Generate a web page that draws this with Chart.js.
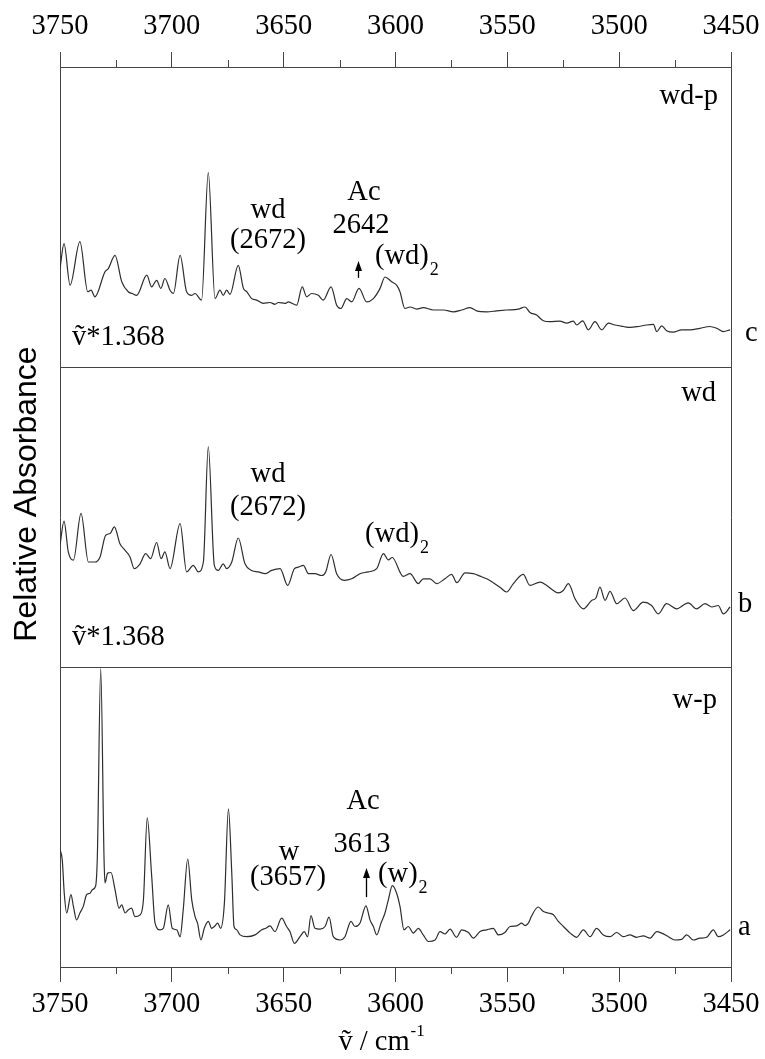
<!DOCTYPE html>
<html>
<head>
<meta charset="utf-8">
<script src="https://cdn.jsdelivr.net/npm/chart.js@4"></script>
<style>
  html, body { margin: 0; padding: 0; background: #fff; }
  #wrap { width: 765px; height: 1059px; }
</style>
</head>
<body>
<div id="wrap"><canvas id="c" width="765" height="1059"></canvas></div>
<script>
// ---- x axis (wavenumber, cm-1) ----
const xTickValues = [3750, 3700, 3650, 3600, 3550, 3500, 3450];
const xMinorTicks = [3725, 3675, 3625, 3575, 3525, 3475];

// ---- spectrum c : wd-p (top panel), relative absorbance 0..100 ----
const waveC = [3750.0, 3748.2, 3745.5, 3741.1, 3737.6, 3736.1, 3734.4, 3729.9, 3728.4, 3725.4,
  3722.4, 3719.5, 3717.7, 3715.7, 3711.2, 3709.0, 3706.8, 3704.9, 3703.1, 3700.8,
  3699.3, 3696.3, 3693.4, 3691.1, 3689.6, 3686.7, 3683.7, 3680.7, 3678.5, 3677.0,
  3675.5, 3674.0, 3670.3, 3668.0, 3666.5, 3664.3, 3662.1, 3659.1, 3656.1, 3653.9,
  3652.4, 3649.4, 3647.9, 3644.2, 3641.7, 3639.7, 3637.5, 3634.5, 3632.3, 3628.8,
  3626.3, 3624.4, 3621.8, 3619.6, 3616.3, 3612.9, 3609.9, 3606.9, 3604.7, 3601.7,
  3599.5, 3598.0, 3595.8, 3593.5, 3590.5, 3587.6, 3583.1, 3578.6, 3574.1, 3570.4,
  3566.7, 3563.7, 3559.2, 3554.8, 3550.3, 3545.1, 3542.1, 3539.9, 3536.9, 3533.9,
  3531.0, 3526.5, 3523.5, 3520.5, 3519.0, 3516.3, 3513.8, 3510.8, 3507.8, 3504.8,
  3501.9, 3498.1, 3495.2, 3491.4, 3487.7, 3484.7, 3483.2, 3481.0, 3478.8, 3475.8,
  3472.1, 3468.3, 3463.9, 3459.4, 3456.4, 3453.4, 3450.4];
const absC = [32.8, 41.1, 27.3, 41.8, 25.1, 25.6, 23.4, 31.7, 32.8, 37.2,
  28.4, 25.1, 24.5, 23.9, 30.6, 26.7, 28.9, 26.2, 29.5, 25.6,
  24.5, 37.2, 25.1, 23.9, 24.5, 22.3, 64.8, 22.8, 25.6, 23.9,
  25.6, 24.2, 33.9, 26.2, 25.1, 22.8, 22.3, 21.2, 21.5, 20.9,
  21.5, 21.2, 21.7, 20.6, 26.7, 23.4, 24.5, 23.9, 22.3, 26.7,
  20.6, 19.5, 22.8, 21.7, 26.2, 21.7, 22.8, 26.2, 30.0, 28.4,
  27.3, 25.1, 19.5, 20.0, 19.3, 19.8, 19.0, 19.0, 18.4, 19.0,
  19.8, 18.7, 18.4, 18.7, 19.0, 19.3, 20.0, 18.2, 17.3, 15.4,
  15.1, 15.3, 14.6, 15.3, 14.0, 15.4, 12.4, 15.1, 12.4, 14.6,
  14.0, 13.5, 13.2, 13.5, 14.0, 14.2, 11.8, 13.7, 12.1, 11.6,
  12.4, 12.4, 12.9, 13.5, 12.9, 11.8, 12.4];

// ---- spectrum b : wd (middle panel) ----
const waveB = [3750.0, 3748.2, 3746.3, 3744.0, 3740.6, 3737.3, 3734.4, 3732.1, 3729.6, 3727.6,
  3725.7, 3723.2, 3720.9, 3718.7, 3716.8, 3714.2, 3711.7, 3709.5, 3706.8, 3704.8,
  3703.1, 3700.8, 3696.3, 3693.4, 3690.4, 3688.2, 3685.9, 3683.7, 3681.0, 3679.2,
  3677.0, 3675.5, 3673.2, 3670.3, 3667.3, 3664.3, 3661.3, 3658.3, 3655.4, 3651.6,
  3648.2, 3645.2, 3643.4, 3641.2, 3638.9, 3636.0, 3633.0, 3631.2, 3628.8, 3626.3,
  3622.9, 3619.6, 3615.9, 3612.2, 3608.4, 3605.4, 3603.2, 3601.5, 3596.5, 3593.5,
  3589.8, 3587.6, 3584.6, 3581.6, 3577.9, 3574.9, 3572.6, 3568.9, 3565.2, 3562.2,
  3559.2, 3556.3, 3553.3, 3550.3, 3547.3, 3542.9, 3539.9, 3535.4, 3532.4, 3529.4,
  3527.2, 3525.0, 3522.7, 3519.7, 3516.0, 3512.3, 3510.4, 3508.6, 3506.3, 3504.1,
  3501.1, 3497.4, 3493.7, 3489.2, 3485.5, 3482.5, 3478.8, 3474.3, 3469.1, 3465.4,
  3461.6, 3458.6, 3455.7, 3453.4, 3450.4];
const absB = [40.6, 48.6, 38.4, 35.6, 51.2, 35.0, 35.0, 36.7, 43.9, 44.5,
  46.7, 41.1, 38.9, 36.7, 32.8, 34.4, 37.8, 36.1, 41.5, 36.1,
  38.4, 32.8, 47.8, 31.7, 33.9, 31.7, 35.0, 73.5, 33.9, 32.2,
  34.4, 32.8, 35.0, 43.0, 34.4, 32.2, 31.7, 31.1, 32.2, 32.8,
  27.2, 32.8, 33.3, 33.9, 31.1, 31.1, 30.5, 31.7, 37.5, 31.1,
  28.9, 29.4, 31.1, 31.7, 32.8, 37.8, 35.7, 36.5, 30.2, 31.1,
  27.8, 29.4, 29.4, 27.8, 29.4, 30.9, 28.1, 31.4, 31.1, 30.3,
  29.4, 28.1, 26.6, 25.0, 27.8, 30.9, 27.2, 28.3, 27.2, 25.5,
  24.7, 25.5, 27.8, 22.7, 19.4, 22.2, 23.0, 26.6, 22.2, 25.2,
  21.1, 23.0, 18.8, 21.6, 20.5, 17.7, 21.1, 19.4, 21.4, 19.4,
  21.1, 20.0, 20.5, 17.7, 20.0];

// ---- spectrum a : w-p (bottom panel) ----
const waveA = [3750.0, 3749.0, 3748.1, 3747.0, 3745.1, 3744.0, 3742.6, 3741.1, 3739.6, 3738.1,
  3736.6, 3735.5, 3734.1, 3733.3, 3731.8, 3730.3, 3729.9, 3728.7, 3727.2, 3725.4,
  3723.6, 3722.4, 3720.9, 3719.4, 3718.0, 3716.5, 3714.2, 3712.7, 3711.0, 3709.0,
  3707.5, 3705.3, 3703.8, 3701.6, 3699.8, 3697.8, 3696.3, 3694.9, 3692.9, 3691.1,
  3689.6, 3688.5, 3687.0, 3685.5, 3683.7, 3682.2, 3681.0, 3679.5, 3678.2, 3676.5,
  3674.7, 3673.2, 3672.2, 3671.0, 3669.5, 3666.5, 3662.8, 3659.8, 3658.0, 3656.1,
  3653.9, 3650.9, 3648.7, 3647.2, 3645.2, 3642.7, 3640.8, 3639.3, 3637.8, 3636.0,
  3633.8, 3631.5, 3629.7, 3627.8, 3624.8, 3622.6, 3619.9, 3618.1, 3615.9, 3613.2,
  3611.4, 3609.9, 3608.4, 3606.5, 3604.7, 3603.2, 3601.4, 3599.5, 3598.0, 3596.2,
  3594.3, 3592.0, 3589.8, 3587.6, 3585.3, 3582.3, 3580.1, 3577.9, 3575.6, 3572.7,
  3570.4, 3567.4, 3565.2, 3562.2, 3559.2, 3556.3, 3554.0, 3551.1, 3548.8, 3545.8,
  3543.6, 3542.1, 3540.6, 3539.1, 3536.2, 3533.9, 3531.7, 3529.4, 3527.2, 3524.9,
  3521.9, 3519.0, 3516.0, 3513.0, 3510.1, 3507.1, 3504.1, 3501.1, 3498.1, 3495.2,
  3492.2, 3489.2, 3486.2, 3483.2, 3481.0, 3478.0, 3475.1, 3472.1, 3469.8, 3466.9,
  3463.9, 3460.9, 3457.9, 3455.7, 3453.4, 3450.4];
const absA = [39.1, 35.8, 24.6, 18.0, 24.1, 20.2, 15.7, 18.0, 20.2, 24.1,
  24.6, 25.8, 26.9, 36.9, 99.5, 35.8, 28.0, 31.3, 31.5, 25.8,
  19.6, 20.7, 18.0, 19.1, 19.6, 16.8, 17.4, 22.4, 49.7, 30.2,
  14.6, 12.4, 12.9, 20.7, 12.9, 12.4, 10.1, 19.1, 36.0, 22.4,
  16.8, 14.6, 9.0, 12.9, 15.2, 12.9, 13.5, 14.6, 12.9, 21.3,
  52.7, 31.3, 13.5, 12.4, 10.7, 10.1, 10.7, 12.4, 12.9, 13.7,
  11.8, 16.3, 13.5, 11.8, 7.9, 10.1, 11.8, 10.1, 17.1, 12.9,
  12.6, 13.5, 16.6, 10.1, 9.0, 10.1, 15.2, 13.5, 14.6, 20.4,
  15.7, 13.5, 10.7, 14.6, 18.0, 22.4, 27.1, 24.6, 20.2, 12.4,
  13.5, 11.3, 12.9, 10.7, 8.5, 9.0, 11.8, 11.0, 12.6, 9.9,
  12.4, 11.5, 9.6, 11.8, 12.4, 12.9, 10.7, 11.5, 13.5, 13.7,
  14.6, 13.8, 14.6, 17.1, 20.0, 18.5, 18.0, 17.4, 15.2, 13.5,
  11.3, 9.9, 12.4, 10.1, 12.9, 10.7, 10.1, 11.5, 10.1, 10.7,
  9.9, 10.4, 9.6, 11.8, 11.3, 10.1, 9.0, 9.2, 10.7, 9.0,
  9.6, 9.9, 12.4, 10.1, 10.7, 12.4];

// ---- text annotations (x in cm-1, y in stacked-panel units 0..3) ----
const notes = [
  {t: 'wd-p', x: 3455.8, y: 2.90, align: 'right'},
  {t: 'wd', x: 3657.0, y: 2.523, align: 'center'},
  {t: '(2672)', x: 3657.0, y: 2.423, align: 'center'},
  {t: 'Ac', x: 3614.1, y: 2.58, align: 'center'},
  {t: '2642', x: 3615.4, y: 2.473, align: 'center'},
  {t: '(wd)', sub: '2', x: 3609.2, y: 2.367, align: 'left'},
  {t: 'c', x: 3443.7, y: 2.113, align: 'left'},
  {t: 'ṽ*1.368', x: 3744.6, y: 2.097, align: 'left'},

  {t: 'wd', x: 3456.7, y: 1.913, align: 'right'},
  {t: 'wd', x: 3657.0, y: 1.64, align: 'center'},
  {t: '(2672)', x: 3657.0, y: 1.53, align: 'center'},
  {t: '(wd)', sub: '2', x: 3613.6, y: 1.44, align: 'left'},
  {t: 'b', x: 3446.9, y: 1.207, align: 'left'},
  {t: 'ṽ*1.368', x: 3744.6, y: 1.097, align: 'left'},

  {t: 'w-p', x: 3456.3, y: 0.887, align: 'right'},
  {t: 'Ac', x: 3614.5, y: 0.55, align: 'center'},
  {t: '3613', x: 3615.0, y: 0.407, align: 'center'},
  {t: 'w', x: 3647.6, y: 0.38, align: 'center'},
  {t: '(3657)', x: 3648.1, y: 0.297, align: 'center'},
  {t: '(w)', sub: '2', x: 3607.8, y: 0.307, align: 'left'},
  {t: 'a', x: 3446.9, y: 0.13, align: 'left'}
];
const arrows = [
  {x: 3616.8, from: 2.297, to: 2.353},
  {x: 3613.2, from: 0.233, to: 0.330}
];

// ---- font selection: first installed serif face, sized so "3750" is ~57px wide ----
function installed(name) {
  const c = document.createElement('canvas').getContext('2d');
  const probe = 'wd(2672)Ac3750 mmmiiilll';
  let differs = false;
  ['monospace', 'sans-serif'].forEach(base => {
    c.font = '40px ' + base;
    const w0 = c.measureText(probe).width;
    c.font = '40px "' + name + '", ' + base;
    const w1 = c.measureText(probe).width;
    if (Math.abs(w1 - w0) > 0.01) differs = true;
  });
  return differs;
}
const serifCandidates = ['Liberation Serif', 'Times New Roman', 'Tinos', 'DejaVu Serif', 'Noto Serif', 'FreeSerif'];
const serifName = serifCandidates.find(installed) || 'serif';
const SERIF = (serifName === 'serif') ? 'serif' : '"' + serifName + '", serif';
const SANS = '"Liberation Sans", Arial, sans-serif';
const FS = (() => {
  const c = document.createElement('canvas').getContext('2d');
  c.font = '100px ' + SERIF;
  const w = c.measureText('3750').width;
  return Math.max(18, Math.min(32, Math.round(57 / w * 100 * 10) / 10));
})();
const FRAME = '#444';
const TRACE = '#2e2e2e';

function series(wave, abs, base) {
  return wave.map((w, i) => ({x: w, y: base + abs[i] / 100}));
}

const fixTicks = (vals) => (scale) => { scale.ticks = vals.map(v => ({value: v})); };

const decor = {
  id: 'decor',
  afterDraw(chart) {
    const ctx = chart.ctx;
    const xs = chart.scales.x, ys = chart.scales.y;
    const area = chart.chartArea;
    ctx.save();
    // minor ticks top and bottom
    ctx.strokeStyle = FRAME;
    ctx.lineWidth = 1;
    xMinorTicks.forEach(v => {
      const px = Math.round(xs.getPixelForValue(v)) + 0.5;
      ctx.beginPath();
      ctx.moveTo(px, area.bottom); ctx.lineTo(px, area.bottom + 7);
      ctx.moveTo(px, area.top); ctx.lineTo(px, area.top - 7);
      ctx.stroke();
    });
    // tick labels, top and bottom, centred on each major tick
    ctx.fillStyle = '#000';
    ctx.font = FS + 'px ' + SERIF;
    ctx.textAlign = 'center';
    ctx.textBaseline = 'middle';
    xTickValues.forEach(v => {
      const px = xs.getPixelForValue(v);
      ctx.fillText(String(v), px, area.top - 40);
      ctx.fillText(String(v), px, area.bottom + 38);
    });
    // annotations
    notes.forEach(n => {
      const px = xs.getPixelForValue(n.x), py = ys.getPixelForValue(n.y);
      ctx.font = FS + 'px ' + SERIF;
      ctx.textAlign = n.align;
      ctx.fillText(n.t, px, py);
      if (n.sub) {
        const w = ctx.measureText(n.t).width;
        ctx.font = Math.round(FS * 0.64) + 'px ' + SERIF;
        ctx.textAlign = 'left';
        ctx.fillText(n.sub, px + w + 1, py + 13);
      }
    });
    // arrows
    arrows.forEach(a => {
      const px = Math.round(xs.getPixelForValue(a.x)) + 0.5;
      const y0 = ys.getPixelForValue(a.from), y1 = ys.getPixelForValue(a.to);
      ctx.strokeStyle = '#000';
      ctx.lineWidth = 1.3;
      ctx.beginPath(); ctx.moveTo(px, y0); ctx.lineTo(px, y1 + 8); ctx.stroke();
      ctx.beginPath();
      ctx.moveTo(px, y1); ctx.lineTo(px - 3.5, y1 + 10); ctx.lineTo(px + 3.5, y1 + 10);
      ctx.closePath(); ctx.fill();
    });
    // y title
    ctx.save();
    ctx.translate(27, 494);
    ctx.rotate(-Math.PI / 2);
    ctx.font = '32px ' + SANS;
    ctx.textAlign = 'center';
    ctx.textBaseline = 'middle';
    ctx.fillText('Relative Absorbance', 0, 0);
    ctx.restore();
    // x title
    ctx.font = FS + 'px ' + SERIF;
    ctx.textAlign = 'left';
    ctx.textBaseline = 'alphabetic';
    const main = 'ṽ / cm';
    const mw = ctx.measureText(main).width;
    const x0 = 374 - mw / 2;
    ctx.fillText(main, x0, 1050);
    ctx.font = Math.round(FS * 0.6) + 'px ' + SERIF;
    ctx.fillText('-1', x0 + mw + 1, 1036);
    ctx.restore();
  }
};

const xAxisCommon = {
  type: 'linear', min: 3450, max: 3750, reverse: true,
  afterBuildTicks: fixTicks(xTickValues),
  grid: {display: true, drawOnChartArea: false, drawTicks: true, tickLength: 15, color: FRAME, lineWidth: 1},
  border: {display: true, color: FRAME, width: 1},
  ticks: {display: false, autoSkip: false}
};

new Chart(document.getElementById('c'), {
  type: 'line',
  data: {
    datasets: [
      {label: 'c', data: series(waveC, absC, 2)},
      {label: 'b', data: series(waveB, absB, 1)},
      {label: 'a', data: series(waveA, absA, 0)}
    ].map(d => Object.assign(d, {
      borderColor: TRACE, borderWidth: 1.2, pointRadius: 0, fill: false,
      cubicInterpolationMode: 'monotone', xAxisID: 'x', yAxisID: 'y'
    }))
  },
  options: {
    responsive: false,
    animation: false,
    events: [],
    layout: {padding: {left: 60, right: 34, top: 0, bottom: 0}},
    plugins: {legend: {display: false}, tooltip: {enabled: false}, title: {display: false}},
    scales: {
      x: Object.assign({}, xAxisCommon, {position: 'bottom', afterFit: (s) => { s.height = 92; }}),
      x2: Object.assign({}, xAxisCommon, {position: 'top', afterFit: (s) => { s.height = 67; }}),
      y: {
        type: 'linear', position: 'left', min: 0, max: 3,
        afterBuildTicks: fixTicks([0, 1, 2, 3]),
        afterFit: (s) => { s.width = 0; },
        grid: {display: true, drawOnChartArea: true, drawTicks: false, color: FRAME, lineWidth: 1},
        border: {display: true, color: FRAME, width: 1},
        ticks: {display: false}
      },
      y2: {
        type: 'linear', position: 'right', min: 0, max: 3,
        afterFit: (s) => { s.width = 0; },
        grid: {display: false},
        border: {display: true, color: FRAME, width: 1},
        ticks: {display: false}
      }
    }
  },
  plugins: [decor]
});
</script>
</body>
</html>
